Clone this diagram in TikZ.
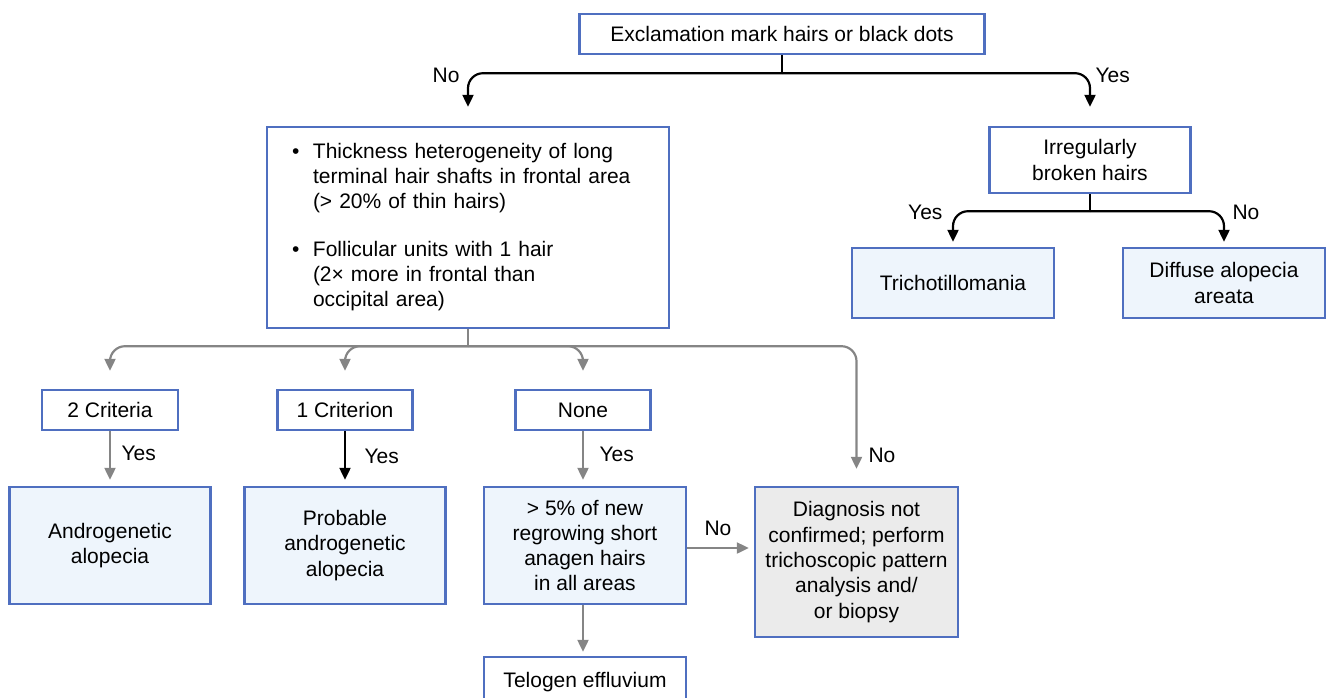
\documentclass[tikz,border=0pt]{standalone}
\usepackage{fontspec}
\setmainfont{Liberation Sans}
\usetikzlibrary{arrows.meta}
\definecolor{boxblue}{HTML}{4F6FC0}
\definecolor{boxfill}{HTML}{EEF5FC}
\definecolor{greyfill}{HTML}{EBEBEB}
\definecolor{linegrey}{HTML}{858585}
\begin{document}
\begin{tikzpicture}[x=1pt,y=-1pt,
    every node/.style={font=\fontsize{21}{25.3}\selectfont},
    box/.style={draw=boxblue,line width=2.4pt,align=center,inner sep=0pt},
    leaf/.style={box,fill=boxfill},
    blk/.style={line width=2.2pt,black,rounded corners=15pt},
    gry/.style={line width=2.2pt,linegrey,rounded corners=15pt},
    tip/.style={-{Triangle[length=12pt,width=11pt]}}]
    \useasboundingbox (0,0) rectangle (1326,697);
    % first question
    \node[box,minimum width=405,minimum height=40] (excl) at (782,34) {Exclamation mark hairs or black dots};
    \node[box,minimum width=402,minimum height=201,text width=352,align=left] (crit) at (468,227.5) {%
      \noindent\begin{tabular}{@{}p{21pt}@{}l@{}}
        \textbullet & Thickness heterogeneity of long\\
                    & terminal hair shafts in frontal area\\
                    & (> 20\% of thin hairs)\\[22pt]
        \textbullet & Follicular units with 1 hair\\
                    & (2× more in frontal than\\
                    & occipital area)
      \end{tabular}};
    \node[box,minimum width=201,minimum height=66] (broken) at (1090,160) {Irregularly\\broken hairs};
    \node[leaf,minimum width=202,minimum height=70] (tricho) at (953,283) {Trichotillomania};
    \node[leaf,minimum width=202,minimum height=70] (diffuse) at (1224,283) {Diffuse alopecia\\areata};
    % criteria count
    \node[box,minimum width=136,minimum height=40] (two) at (110,410) {2 Criteria};
    \node[box,minimum width=135,minimum height=40] (one) at (345,410) {1 Criterion};
    \node[box,minimum width=135,minimum height=40] (none) at (583,410) {None};
    \node[leaf,minimum width=201,minimum height=117] (andro) at (110,545.5) {Androgenetic\\alopecia};
    \node[leaf,minimum width=201,minimum height=117] (prob) at (345,545.5) {Probable\\androgenetic\\alopecia};
    \node[leaf,minimum width=202,minimum height=117] (regrow) at (585,545.5) {> 5\% of new\\regrowing short\\anagen hairs\\in all areas};
    \node[box,fill=greyfill,minimum width=203,minimum height=150] (diag) at (856.5,562) {Diagnosis not\\confirmed; perform\\trichoscopic pattern\\analysis and/\\or biopsy};
    \node[box,minimum width=202,minimum height=50] (telogen) at (585,682) {Telogen effluvium};

    % black branches
    \draw[line width=2.2pt] (excl.south) -- ++(0,18) coordinate (split);
    \draw[blk,tip,shorten >=19pt] (split) -| (crit.north);
    \draw[blk,tip,shorten >=19pt] (split) -| (broken.north);
    \node[anchor=east] (no1) at (463,75) {No};
    \node[anchor=west] (yes1) at (1092,75) {Yes};
    \draw[line width=2.2pt] (broken.south) -- ++(0,17) coordinate (split2);
    \draw[blk,tip,shorten >=5pt] (split2) -| (tricho.north);
    \draw[blk,tip,shorten >=5pt] (split2) -| (diffuse.north);
    \node[anchor=east] (yes2) at (946,212) {Yes};
    \node[anchor=west] (no2) at (1229,212) {No};

    % grey branches
    \draw[line width=2.2pt,linegrey] (crit.south) -- ++(0,17) coordinate (fork);
    \draw[gry,tip,shorten >=18pt] (fork) -| (two.north);
    \draw[gry,tip,shorten >=18pt] (fork) -| (one.north);
    \draw[gry,tip,shorten >=18pt] (fork) -| (none.north);
    \draw[gry,tip,shorten >=17pt] (fork) -| (diag.north);
    \draw[gry,tip,shorten >=6pt] (two) -- (andro);
    \draw[blk,tip,shorten >=6pt] (one) -- (prob);
    \draw[gry,tip,shorten >=6pt] (none.south) -- (none.south |- regrow.north);
    \draw[gry,tip,shorten >=4pt] (regrow.south -| none.south) -- (none.south |- telogen.north);
    \draw[gry,tip,shorten >=5pt] (regrow.east |- 0,548) -- (diag.west |- 0,548);
    \node[anchor=west] (yes3) at (118,453) {Yes};
    \node[anchor=west] (yes4) at (361,456) {Yes};
    \node[anchor=west] (yes5) at (596,454) {Yes};
    \node[anchor=west] (no3) at (865,455) {No};
    \node (no4) at (718,528) {No};
\end{tikzpicture}
\end{document}
